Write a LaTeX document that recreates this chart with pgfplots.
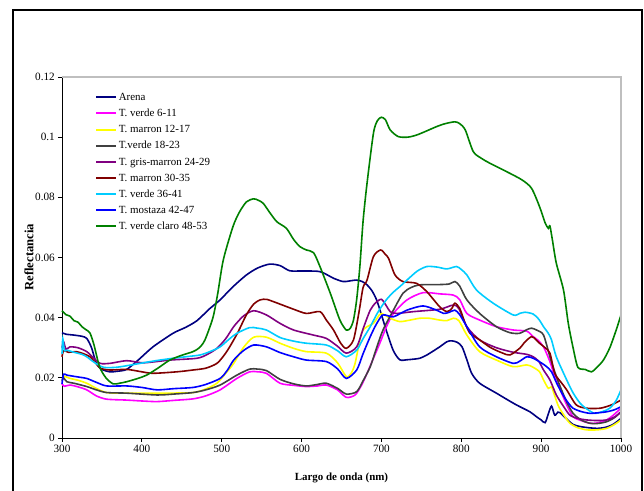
\documentclass[border=0pt]{standalone}
\usepackage{fontspec}
\setmainfont{Liberation Serif}
\usepackage{pgfplots}
\pgfplotsset{compat=1.18}
\definecolor{arena}{RGB}{0,0,128}
\definecolor{magen}{RGB}{255,0,255}
\definecolor{amar}{RGB}{255,255,0}
\definecolor{gris}{RGB}{64,64,64}
\definecolor{purp}{RGB}{128,0,128}
\definecolor{marr}{RGB}{128,0,0}
\definecolor{cielo}{RGB}{0,204,255}
\definecolor{azul}{RGB}{0,0,255}
\definecolor{verde}{RGB}{0,128,0}

\begin{document}
\begin{tikzpicture}
\useasboundingbox (0,0) rectangle (483pt,368.25pt);
% outer frame
\draw[black,line width=1.6pt] (9.75pt,-5pt) -- (9.75pt,360.75pt) -- (481.5pt,360.75pt) -- (481.5pt,-5pt);
\begin{axis}[
  at={(46.5pt,39.75pt)}, anchor=south west,
  scale only axis, width=419.25pt, height=270.75pt,
  xmin=300, xmax=1000, ymin=0, ymax=0.12,
  xtick={300,400,500,600,700,800,900,1000},
  ytick={0,0.02,0.04,0.06,0.08,0.1,0.12},
  yticklabels={0,0.02,0.04,0.06,0.08,0.1,0.12},
  axis x line*=bottom, axis y line*=left,
  axis line style={-, black, line width=0.6pt},
  tick align=outside, major tick length=3pt,
  tick style={black, line width=0.6pt},
  /pgf/number format/assume math mode=true,
  /pgf/number format/1000 sep={},
  tick label style={font=\fontsize{8.4}{9}\selectfont},
  yticklabel style={inner xsep=2.2pt},
  xticklabel style={inner ysep=2pt},
  xlabel={\textbf{Largo de onda (nm)}},
  ylabel={\textbf{Reflectancia}},
  xlabel style={font=\fontsize{8.2}{9}\selectfont, at={(axis description cs:0.5,-0.111)}, anchor=center},
  ylabel style={font=\fontsize{9.5}{11}\selectfont, at={(axis description cs:-0.059,0.501)}, anchor=center},
  clip=false,
  legend cell align=left,
  legend style={at={(axis description cs:0.059,0.967)}, anchor=north west,
    draw=none, fill=none, inner sep=0pt, row sep=0pt,
    font=\fontsize{8.2}{9}\selectfont,
    nodes={inner xsep=1.2pt, inner ysep=0pt, text height=8.5pt, text depth=3.6pt}},
  legend image code/.code={\draw[#1, line width=1.5pt] (0pt,0pt) -- (15pt,0pt);},
  every axis plot/.append style={line width=1.2pt, smooth, tension=0.45},
]
% Arena
\addplot[arena] coordinates {
(300,0.0350)(305,0.0345)(315,0.0342)(325,0.0338)(331,0.0331)(337,0.0300)(343,0.0248)(350,0.0228)(360,0.0220)(370,0.0222)(381,0.0228)(395,0.0258)(414,0.0303)(439,0.0348)(455,0.0368)(469,0.0390)(485,0.0430)(498,0.0459)(513,0.0500)(531,0.0542)(545,0.0565)(560,0.0578)(573,0.0573)(585,0.0556)(600,0.0555)(623,0.0553)(640,0.0531)(652,0.0520)(660,0.0522)(669,0.0525)(676,0.0520)(682,0.0509)(688,0.0490)(694,0.0459)(700,0.0410)(707,0.0350)(715,0.0290)(723,0.0260)(732,0.0260)(740,0.0262)(748,0.0265)(757,0.0276)(773,0.0303)(782,0.0320)(788,0.0323)(795,0.0318)(801,0.0303)(807,0.0260)(813,0.0215)(823,0.0182)(844,0.0149)(856,0.0130)(869,0.0110)(886,0.0087)(894,0.0071)(900,0.0060)(905,0.0051)(909,0.0080)(913,0.0106)(917,0.0076)(921,0.0086)(924,0.0084)(930,0.0068)(940,0.0045)(949,0.0038)(960,0.0034)(970,0.0032)(980,0.0035)(990,0.0045)(1000,0.0065)
};
\addlegendentry{Arena}
% T. verde 6-11
\addplot[magen] coordinates {
(300,0.0180)(303,0.0172)(310,0.0176)(320,0.0170)(331,0.0160)(343,0.0140)(356,0.0129)(381,0.0126)(400,0.0123)(419,0.0121)(440,0.0125)(464,0.0130)(480,0.0140)(498,0.0160)(519,0.0198)(535,0.0220)(545,0.0220)(556,0.0215)(573,0.0182)(590,0.0175)(606,0.0171)(620,0.0173)(631,0.0176)(645,0.0160)(656,0.0135)(667,0.0143)(675,0.0175)(682,0.0215)(690,0.0265)(698,0.0315)(706,0.0368)(715,0.0414)(732,0.0459)(752,0.0483)(773,0.0479)(790,0.0475)(798,0.0460)(807,0.0414)(823,0.0392)(844,0.0370)(865,0.0359)(882,0.0355)(890,0.0337)(896,0.0325)(903,0.0303)(911,0.0254)(917,0.0205)(924,0.0160)(932,0.0110)(940,0.0071)(950,0.0058)(961,0.0049)(970,0.0050)(982,0.0060)(990,0.0075)(1000,0.0099)
};
\addlegendentry{T. verde 6-11}
% T. marron 12-17
\addplot[amar] coordinates {
(300,0.0195)(303,0.0205)(310,0.0198)(320,0.0192)(331,0.0182)(343,0.0165)(356,0.0151)(381,0.0149)(423,0.0149)(464,0.0151)(480,0.0163)(494,0.0182)(505,0.0215)(515,0.0248)(527,0.0300)(540,0.0335)(556,0.0335)(573,0.0315)(590,0.0298)(606,0.0287)(631,0.0282)(645,0.0250)(656,0.0204)(662,0.0215)(667,0.0248)(675,0.0348)(682,0.0370)(690,0.0381)(695,0.0400)(700,0.0414)(711,0.0398)(723,0.0387)(736,0.0392)(748,0.0398)(760,0.0398)(773,0.0392)(782,0.0390)(790,0.0398)(797,0.0390)(807,0.0342)(823,0.0287)(844,0.0259)(865,0.0237)(882,0.0243)(890,0.0235)(898,0.0220)(903,0.0193)(909,0.0165)(913,0.0170)(917,0.0140)(922,0.0104)(930,0.0070)(936,0.0049)(945,0.0035)(957,0.0027)(970,0.0027)(982,0.0032)(992,0.0045)(1000,0.0060)
};
\addlegendentry{T. marron 12-17}
% T.verde 18-23
\addplot[gris] coordinates {
(300,0.0190)(302,0.0200)(306,0.0187)(315,0.0182)(331,0.0171)(343,0.0160)(356,0.0151)(381,0.0149)(419,0.0143)(440,0.0146)(464,0.0151)(480,0.0160)(498,0.0176)(519,0.0209)(535,0.0229)(545,0.0229)(556,0.0224)(573,0.0195)(590,0.0180)(606,0.0173)(620,0.0178)(631,0.0182)(645,0.0165)(656,0.0146)(669,0.0154)(677,0.0190)(686,0.0237)(694,0.0300)(702,0.0359)(715,0.0425)(727,0.0481)(737,0.0500)(748,0.0509)(773,0.0510)(785,0.0512)(792,0.0520)(798,0.0505)(807,0.0459)(823,0.0414)(844,0.0370)(861,0.0350)(873,0.0348)(882,0.0360)(888,0.0365)(895,0.0358)(903,0.0342)(911,0.0270)(917,0.0220)(924,0.0170)(932,0.0120)(940,0.0082)(950,0.0060)(961,0.0049)(970,0.0048)(982,0.0054)(992,0.0068)(1000,0.0087)
};
\addlegendentry{T.verde 18-23}
% T. gris-marron 24-29
\addplot[purp] coordinates {
(300,0.0300)(302,0.0320)(305,0.0295)(310,0.0303)(320,0.0300)(331,0.0287)(340,0.0265)(348,0.0248)(360,0.0248)(381,0.0257)(402,0.0250)(435,0.0259)(469,0.0265)(482,0.0278)(494,0.0298)(505,0.0330)(515,0.0370)(527,0.0405)(540,0.0423)(556,0.0409)(573,0.0381)(590,0.0359)(615,0.0342)(631,0.0331)(645,0.0305)(656,0.0282)(669,0.0303)(678,0.0370)(686,0.0425)(693,0.0450)(700,0.0461)(706,0.0440)(711,0.0420)(719,0.0414)(740,0.0420)(773,0.0428)(790,0.0442)(797,0.0430)(807,0.0370)(823,0.0326)(844,0.0300)(865,0.0285)(882,0.0278)(890,0.0270)(897,0.0255)(903,0.0226)(911,0.0193)(919,0.0143)(928,0.0105)(936,0.0076)(946,0.0065)(957,0.0060)(970,0.0058)(982,0.0060)(992,0.0070)(1000,0.0087)
};
\addlegendentry{T. gris-marron 24-29}
% T. marron 30-35
\addplot[marr] coordinates {
(300,0.0270)(302,0.0290)(308,0.0285)(318,0.0287)(327,0.0280)(335,0.0270)(342,0.0250)(348,0.0232)(360,0.0226)(381,0.0228)(400,0.0220)(414,0.0215)(444,0.0220)(464,0.0226)(480,0.0232)(494,0.0248)(503,0.0275)(510,0.0303)(520,0.0350)(531,0.0410)(540,0.0445)(548,0.0459)(556,0.0461)(565,0.0453)(573,0.0445)(590,0.0428)(606,0.0414)(623,0.0420)(631,0.0392)(640,0.0359)(649,0.0315)(656,0.0298)(665,0.0326)(672,0.0420)(677,0.0500)(682,0.0525)(690,0.0603)(699,0.0625)(705,0.0610)(709,0.0597)(717,0.0542)(727,0.0520)(744,0.0514)(757,0.0486)(773,0.0436)(782,0.0420)(788,0.0430)(792,0.0448)(798,0.0431)(805,0.0380)(811,0.0348)(823,0.0326)(837,0.0300)(852,0.0282)(861,0.0276)(873,0.0298)(880,0.0320)(888,0.0337)(893,0.0328)(898,0.0315)(905,0.0300)(911,0.0282)(917,0.0215)(925,0.0185)(932,0.0160)(944,0.0110)(957,0.0099)(974,0.0099)(988,0.0110)(1000,0.0126)
};
\addlegendentry{T. marron 30-35}
% T. verde 36-41
\addplot[cielo] coordinates {
(300,0.0280)(301,0.0330)(303,0.0290)(306,0.0292)(315,0.0285)(325,0.0278)(331,0.0270)(340,0.0252)(352,0.0235)(368,0.0235)(385,0.0242)(402,0.0250)(420,0.0258)(439,0.0265)(455,0.0270)(473,0.0276)(486,0.0288)(498,0.0303)(510,0.0330)(519,0.0348)(535,0.0367)(545,0.0365)(556,0.0359)(573,0.0334)(590,0.0322)(606,0.0315)(631,0.0309)(645,0.0290)(656,0.0270)(669,0.0292)(677,0.0330)(686,0.0370)(696,0.0420)(706,0.0459)(715,0.0485)(723,0.0503)(732,0.0525)(745,0.0555)(757,0.0570)(770,0.0568)(782,0.0562)(794,0.0570)(800,0.0560)(807,0.0542)(819,0.0492)(840,0.0448)(865,0.0409)(873,0.0414)(880,0.0418)(890,0.0412)(897,0.0395)(903,0.0370)(909,0.0348)(913,0.0326)(919,0.0270)(932,0.0193)(940,0.0150)(949,0.0115)(958,0.0095)(967,0.0082)(977,0.0088)(986,0.0099)(994,0.0125)(1000,0.0160)
};
\addlegendentry{T. verde 36-41}
% T. mostaza 42-47
\addplot[azul] coordinates {
(300,0.0180)(302,0.0212)(306,0.0209)(315,0.0205)(322,0.0202)(331,0.0198)(343,0.0185)(356,0.0173)(381,0.0173)(400,0.0168)(419,0.0160)(440,0.0164)(464,0.0168)(480,0.0178)(498,0.0198)(507,0.0225)(515,0.0259)(527,0.0290)(540,0.0309)(556,0.0303)(573,0.0284)(590,0.0270)(606,0.0259)(631,0.0254)(645,0.0230)(656,0.0198)(669,0.0226)(677,0.0280)(686,0.0337)(694,0.0380)(702,0.0409)(715,0.0403)(732,0.0425)(752,0.0439)(769,0.0425)(778,0.0414)(785,0.0418)(792,0.0425)(798,0.0410)(807,0.0370)(823,0.0303)(844,0.0270)(865,0.0248)(873,0.0255)(882,0.0270)(890,0.0265)(900,0.0250)(907,0.0237)(913,0.0220)(919,0.0185)(926,0.0149)(933,0.0120)(940,0.0099)(950,0.0088)(961,0.0082)(972,0.0084)(982,0.0087)(992,0.0094)(1000,0.0104)
};
\addlegendentry{T. mostaza 42-47}
% T. verde claro 48-53
\addplot[verde] coordinates {
(300,0.0423)(305,0.0410)(310,0.0405)(315,0.0390)(320,0.0385)(325,0.0370)(330,0.0360)(335,0.0349)(340,0.0310)(347,0.0237)(355,0.0200)(364,0.0180)(372,0.0182)(381,0.0187)(395,0.0198)(406,0.0209)(420,0.0232)(435,0.0259)(450,0.0275)(464,0.0287)(472,0.0300)(479,0.0326)(489,0.0400)(495,0.0480)(502,0.0592)(514,0.0702)(522,0.0750)(531,0.0785)(540,0.0795)(546,0.0790)(552,0.0780)(560,0.0750)(569,0.0719)(581,0.0697)(590,0.0660)(598,0.0636)(606,0.0625)(615,0.0616)(623,0.0570)(636,0.0481)(648,0.0392)(656,0.0359)(661,0.0365)(665,0.0392)(669,0.0460)(673,0.0570)(677,0.0720)(682,0.0847)(690,0.1013)(695,0.1055)(700,0.1066)(705,0.1058)(711,0.1024)(721,0.1002)(733,0.1000)(744,0.1007)(756,0.1020)(769,0.1035)(780,0.1045)(792,0.1051)(798,0.1045)(805,0.1024)(815,0.0952)(825,0.0930)(836,0.0913)(857,0.0885)(876,0.0858)(888,0.0830)(898,0.0769)(905,0.0715)(909,0.0697)(911,0.0705)(914,0.0660)(919,0.0581)(928,0.0492)(934,0.0381)(940,0.0300)(946,0.0235)(955,0.0228)(963,0.0220)(970,0.0235)(978,0.0259)(986,0.0300)(994,0.0359)(1000,0.0409)
};
\addlegendentry{T. verde claro 48-53}
% plot-area border (top and right)
\draw[black!25, line width=1.2pt] (rel axis cs:0,1) -- (rel axis cs:1,1) -- (rel axis cs:1,0);
\end{axis}
\end{tikzpicture}
\end{document}
